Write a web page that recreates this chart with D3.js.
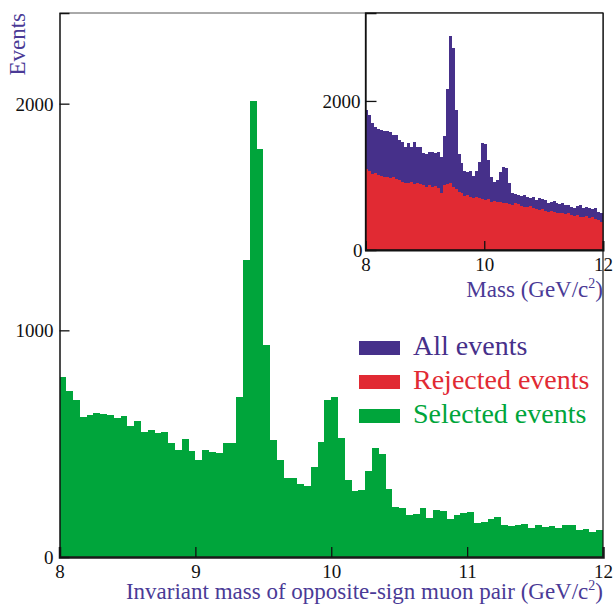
<!DOCTYPE html>
<html>
<head>
<meta charset="utf-8">
<script src="https://cdn.jsdelivr.net/npm/d3@7"></script>
<style>
  html, body { margin: 0; padding: 0; background: #fff; }
  svg { display: block; font-family: "Liberation Serif", "DejaVu Serif", serif; }
</style>
</head>
<body>
<svg id="chart" width="613" height="604"></svg>
<script>
// ---------- data ----------
const binEdges = d3.range(80).map(i => 8 + i * 0.05); // lower edges of 0.05 GeV/c^2 bins
const binWidth = 0.05;

// Main plot: selected events
const selectedEvents = [
  794, 732, 694, 618, 625, 637, 633, 625, 615, 621,
  578, 599, 552, 559, 547, 552, 503, 474, 522, 466,
  426, 474, 463, 459, 505, 503, 706, 1309, 2010, 1799,
  937, 518, 430, 349, 350, 321, 313, 397, 508, 691,
  706, 527, 338, 290, 294, 379, 481, 453, 299, 221,
  218, 184, 191, 218, 172, 206, 202, 169, 187, 194,
  199, 150, 153, 169, 176, 140, 137, 140, 147, 128,
  140, 132, 137, 130, 140, 140, 121, 125, 110, 121
];

// Inset: all events
const allEvents = [
  1885, 1808, 1705, 1652, 1617, 1607, 1594, 1598, 1585, 1540,
  1540, 1474, 1451, 1384, 1438, 1376, 1451, 1384, 1384, 1304,
  1286, 1317, 1317, 1295, 1317, 1242, 1527, 2166, 2867, 2715,
  1875, 1286, 1170, 1062, 1049, 1062, 991, 1062, 1183, 1429,
  1420, 1206, 982, 915, 938, 1049, 1108, 1094, 902, 768,
  750, 737, 723, 737, 714, 692, 714, 670, 692, 679,
  670, 625, 647, 661, 634, 616, 625, 603, 603, 572,
  558, 589, 603, 558, 580, 558, 545, 558, 513, 491
];

// Inset: rejected events
const rejectedEvents = [
  1085, 1062, 1018, 1036, 1005, 991, 982, 982, 960, 973,
  947, 938, 915, 902, 893, 915, 884, 902, 884, 871,
  848, 871, 839, 857, 826, 759, 871, 884, 902, 848,
  813, 781, 768, 723, 737, 714, 692, 706, 692, 679,
  670, 679, 647, 661, 647, 647, 634, 625, 616, 603,
  625, 616, 589, 580, 572, 589, 558, 545, 536, 545,
  527, 513, 527, 513, 500, 491, 500, 482, 491, 469,
  460, 469, 446, 437, 460, 424, 437, 411, 402, 379
];

const mainXTicks = [8, 9, 10, 11, 12];
const mainYTicks = [0, 1000, 2000];
const insetXTicks = [8, 10, 12];
const insetYTicks = [0, 2000];

const legendItems = [
  { label: "All events", color: "#46308a" },
  { label: "Rejected events", color: "#e12a33" },
  { label: "Selected events", color: "#00a53b" }
];

// ---------- styles ----------
const C_PURPLE = "#46308a", C_RED = "#e12a33", C_GREEN = "#00a53b";
const C_TITLE = "#4a3a96";

const svg = d3.select("#chart");

// ---------- main plot ----------
const M = { left: 59.5, right: 603, top: 13, bottom: 557 };
const x = d3.scaleLinear().domain([8, 12]).range([M.left, M.right]);
const y = d3.scaleLinear().domain([0, 2400]).range([M.bottom, M.top]);

svg.append("g").selectAll("rect")
  .data(selectedEvents)
  .join("rect")
  .attr("x", (d, i) => x(binEdges[i]))
  .attr("width", (d, i) => x(binEdges[i] + binWidth) - x(binEdges[i]))
  .attr("y", d => y(d))
  .attr("height", d => y(0) - y(d))
  .attr("fill", C_GREEN)
  .attr("shape-rendering", "crispEdges");

// frame
svg.append("line").attr("x1", M.left).attr("x2", M.right).attr("y1", M.top).attr("y2", M.top)
  .attr("stroke", "#555").attr("stroke-width", 1);
svg.append("line").attr("x1", M.right).attr("x2", M.right).attr("y1", M.top).attr("y2", M.bottom)
  .attr("stroke", "#111").attr("stroke-width", 1.2);

// axes
const xAxis = d3.axisBottom(x).tickValues(mainXTicks).tickSize(-10).tickPadding(8).tickFormat(d3.format("d"));
const gx = svg.append("g").attr("transform", `translate(0,${M.bottom})`).call(xAxis);
const yAxis = d3.axisLeft(y).tickValues(mainYTicks).tickSize(-10).tickPadding(6).tickFormat(d3.format("d"));
const gy = svg.append("g").attr("transform", `translate(${M.left},0)`).call(yAxis);

[gx, gy].forEach(g => {
  g.selectAll("text").attr("font-size", 19).attr("fill", "#111").attr("font-family", "Liberation Serif");
  g.selectAll(".tick line").attr("stroke", "#111").attr("stroke-width", 1.3);
});
gx.select(".domain").attr("stroke", "#1a1a1a").attr("stroke-width", 2.5);
gy.select(".domain").attr("stroke", "#111").attr("stroke-width", 1.5);
gx.selectAll(".tick").filter(d => d === 8 || d === 12).select("line").remove();
gy.selectAll(".tick").filter(d => d === 0).select("line").remove();
gx.selectAll("text").attr("dy", "0.71em");
gy.selectAll("text").attr("dy", "0.35em");

// titles
const xt = svg.append("text").attr("x", 603).attr("y", 599).attr("text-anchor", "end")
  .attr("font-size", 23).attr("fill", C_TITLE);
xt.append("tspan").text("Invariant mass of opposite-sign muon pair (GeV/c");
xt.append("tspan").attr("font-size", 14).attr("dy", -9).text("2");
xt.append("tspan").attr("dy", 9).text(")");

svg.append("text").attr("transform", "translate(25,13) rotate(-90)")
  .attr("text-anchor", "end").attr("font-size", 23).attr("fill", C_TITLE).text("Events");

// legend
const lg = svg.append("g").selectAll("g").data(legendItems).join("g")
  .attr("transform", (d, i) => `translate(359,${355 + i * 34})`);
lg.append("rect").attr("x", 0).attr("y", -14).attr("width", 41).attr("height", 14).attr("fill", d => d.color);
lg.append("text").attr("x", 54).attr("y", 0).attr("font-size", 28).attr("fill", d => d.color).text(d => d.label);

// ---------- inset ----------
const I = { left: 365.5, right: 603, top: 13, bottom: 250 };
const xi = d3.scaleLinear().domain([8, 12]).range([I.left, I.right]);
const yi = d3.scaleLinear().domain([0, 3180]).range([I.bottom, I.top]);

svg.append("rect").attr("x", I.left).attr("y", I.top).attr("width", I.right - I.left)
  .attr("height", I.bottom - I.top).attr("fill", "#fff");

function histo(data, color) {
  svg.append("g").selectAll("rect").data(data).join("rect")
    .attr("x", (d, i) => xi(binEdges[i]))
    .attr("width", (d, i) => xi(binEdges[i] + binWidth) - xi(binEdges[i]))
    .attr("y", d => yi(d))
    .attr("height", d => yi(0) - yi(d))
    .attr("fill", color)
    .attr("shape-rendering", "crispEdges");
}
histo(allEvents, C_PURPLE);
histo(rejectedEvents, C_RED);

svg.append("rect").attr("x", I.left).attr("y", I.top).attr("width", I.right - I.left)
  .attr("height", I.bottom - I.top).attr("fill", "none").attr("stroke", "#111").attr("stroke-width", 1.3);

const xiAxis = d3.axisBottom(xi).tickValues(insetXTicks).tickSize(-9).tickPadding(8).tickFormat(d3.format("d"));
const gxi = svg.append("g").attr("transform", `translate(0,${I.bottom})`).call(xiAxis);
const yiAxis = d3.axisLeft(yi).tickValues(insetYTicks).tickSize(-11).tickPadding(5).tickFormat(d3.format("d"));
const gyi = svg.append("g").attr("transform", `translate(${I.left},0)`).call(yiAxis);
[gxi, gyi].forEach(g => {
  g.selectAll("text").attr("font-size", 19).attr("fill", "#111").attr("font-family", "Liberation Serif");
  g.selectAll(".tick line").attr("stroke", "#111").attr("stroke-width", 1.3);
});
gxi.select(".domain").attr("stroke", "#111").attr("stroke-width", 2);
gyi.select(".domain").attr("stroke", "#111").attr("stroke-width", 1.3);
gxi.selectAll(".tick").filter(d => d === 8 || d === 12).select("line").remove();
gyi.selectAll(".tick").filter(d => d === 0).select("line").remove();
gxi.selectAll("text").attr("dy", "0.71em");
gyi.selectAll("text").attr("dy", "0.35em");
gyi.selectAll(".tick").filter(d => d === 0).select("text").attr("x", -3);

const mt = svg.append("text").attr("x", 603).attr("y", 297).attr("text-anchor", "end")
  .attr("font-size", 23).attr("fill", C_TITLE);
mt.append("tspan").text("Mass (GeV/c");
mt.append("tspan").attr("font-size", 14).attr("dy", -9).text("2");
mt.append("tspan").attr("dy", 9).text(")");
</script>
</body>
</html>
